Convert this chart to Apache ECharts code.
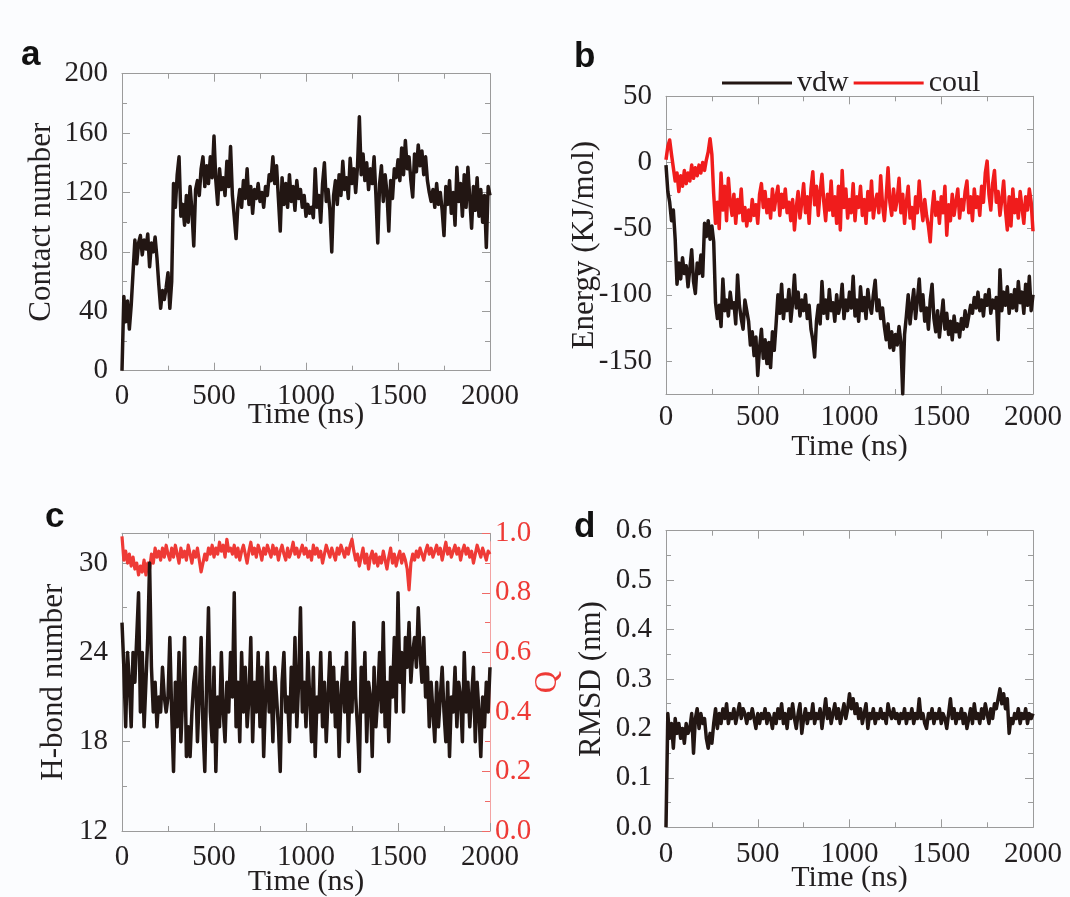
<!DOCTYPE html>
<html><head><meta charset="utf-8">
<script src="https://cdn.jsdelivr.net/npm/echarts@6/dist/echarts.min.js"></script>
<style>html,body{margin:0;padding:0;background:#fbfcfe}#c{width:1070px;height:897px}</style>
</head><body><div id="c"></div>
<script>
// ---- data (sampled every 10 ns, 0..2000 ns) ----
const timeStep = 10;
const timeMin = 0, timeMax = 2000, timeInterval = 500;
const timeLabels = [0, 500, 1000, 1500, 2000];

const contactNumber = [
0,50,33,47,28,44,66,88,72,86,91,78,88,82,92,70,86,80,90,76,
58,42,54,48,56,66,42,60,126,110,132,144,104,112,98,118,100,124,108,84,
122,128,118,136,144,124,138,126,144,130,158,128,112,136,122,130,118,141,124,151,
118,104,89,112,122,110,128,116,136,112,124,106,122,116,126,114,120,110,124,118,
132,128,144,126,138,116,94,130,112,126,110,132,114,124,108,128,116,122,110,118,
104,112,106,110,103,136,110,118,100,126,140,114,122,108,80,118,128,112,132,118,
141,122,130,116,143,126,136,120,138,171,132,146,128,140,122,136,126,144,118,86,
126,138,114,132,120,94,128,116,136,130,142,128,150,132,155,136,144,128,117,146,
134,152,138,148,132,144,128,120,114,122,110,126,112,120,108,91,124,112,128,106,
120,98,137,114,126,104,132,110,137,116,96,124,108,130,104,122,100,118,83,124,
118];

const vdwEnergy = [
-2,-22,-30,-44,-36,-58,-92,-76,-88,-72,-84,-78,-94,-80,-66,-90,-99,-76,-84,-70,
-86,-46,-56,-44,-58,-48,-60,-106,-118,-108,-124,-88,-112,-104,-116,-98,-110,-106,-122,-85,
-108,-118,-126,-104,-112,-120,-138,-128,-146,-132,-161,-140,-126,-148,-134,-152,-136,-155,-128,-142,
-122,-100,-114,-92,-118,-104,-112,-96,-120,-106,-85,-110,-98,-116,-104,-112,-100,-118,-108,-126,
-134,-147,-120,-108,-122,-90,-114,-104,-118,-96,-112,-106,-120,-100,-114,-108,-92,-118,-104,-112,
-98,-110,-86,-116,-104,-120,-94,-112,-102,-118,-96,-108,-114,-100,-89,-112,-104,-118,-110,-124,
-134,-122,-140,-128,-142,-130,-138,-124,-136,-175,-130,-116,-100,-122,-108,-96,-118,-104,-88,-112,
-100,-120,-110,-126,-104,-92,-118,-128,-112,-132,-118,-104,-126,-114,-130,-120,-134,-116,-128,-122,
-132,-118,-126,-112,-124,-116,-108,-114,-102,-110,-98,-112,-104,-116,-100,-108,-96,-114,-104,-110,
-102,-134,-81,-112,-98,-108,-94,-114,-100,-110,-96,-112,-90,-106,-98,-114,-92,-108,-86,-112,
-100];

const coulEnergy = [
2,12,17,6,-4,-14,-8,-22,-10,-18,-6,-16,-8,-14,-2,-12,-4,-10,-2,-8,
0,-6,2,8,18,6,-24,-46,-30,-50,-8,-36,-18,-44,-12,-30,-40,-24,-46,-28,
-38,-20,-44,-34,-48,-36,-44,-28,-40,-32,-46,-24,-16,-34,-22,-38,-28,-42,-20,-36,
-26,-18,-40,-24,-34,-20,-38,-30,-44,-28,-51,-34,-22,-42,-30,-16,-38,-26,-46,-20,
-7,-32,-18,-40,-22,-9,-30,-44,-24,-36,-14,-40,-26,-46,-18,-51,-6,-34,-20,-42,
-28,-38,-16,-44,-26,-34,-18,-40,-28,-46,-22,-36,-14,-42,-30,-24,-38,-10,-32,-44,
-26,-4,-30,-40,-20,-36,-28,-12,-38,-24,-46,-30,-18,-42,-34,-50,-26,-38,-14,-32,
-44,-28,-40,-48,-60,-36,-22,-40,-30,-46,-26,-38,-18,-55,-32,-44,-24,-40,-30,-20,
-42,-28,-36,-22,-14,-38,-26,-44,-20,-34,-26,-40,-18,-30,-8,1,-24,-36,-16,-6,
-30,-22,-40,-28,-14,-36,-51,-26,-48,-20,-38,-28,-42,-22,-34,-46,-26,-36,-20,-30,
-52];

const hbondNumber = [
26,23,19,24,22,19,24,22,25,28,20,24,19,22,25,30,23,20,22,19,
21,20,23,21,20,21,25,20,16,22,19,24,18,21,25,17,19,17,20,22,
23,18,21,25,19,16,22,27,20,18,23,16,21,19,24,20,18,22,20,24,
21,28,19,22,18,24,20,23,19,21,25,18,22,20,24,19,23,17,21,24,
20,22,18,23,21,19,16,22,24,20,21,18,23,20,25,19,22,27,20,22,
19,24,21,18,23,17,21,20,24,19,22,18,21,24,20,23,19,22,17,21,
23,20,24,18,22,20,26,21,19,16,23,20,24,18,22,21,17,23,19,21,
24,20,26,19,22,18,23,21,25,20,28,22,24,20,25,23,26,22,24,25,
23,27,24,22,25,21,23,19,22,20,18,22,19,21,23,20,18,22,17,21,
20,23,19,22,21,18,24,20,22,19,21,23,18,22,20,17,21,19,22,20,
23];

const qValue = [
0.99,0.91,0.94,0.90,0.93,0.89,0.92,0.88,0.90,0.86,0.89,0.87,0.91,0.86,0.90,0.88,0.93,0.90,0.95,0.92,
0.94,0.91,0.95,0.92,0.96,0.93,0.91,0.95,0.92,0.96,0.93,0.90,0.95,0.92,0.94,0.91,0.96,0.93,0.90,0.94,
0.92,0.95,0.91,0.87,0.90,0.93,0.91,0.95,0.93,0.96,0.92,0.95,0.93,0.97,0.94,0.96,0.92,0.98,0.94,0.95,
0.93,0.96,0.92,0.95,0.91,0.94,0.96,0.93,0.90,0.94,0.97,0.93,0.95,0.92,0.96,0.94,0.91,0.95,0.93,0.96,
0.94,0.92,0.96,0.93,0.95,0.91,0.94,0.96,0.93,0.91,0.95,0.92,0.94,0.97,0.93,0.95,0.92,0.94,0.96,0.93,
0.95,0.92,0.94,0.91,0.96,0.93,0.95,0.92,0.94,0.90,0.93,0.96,0.94,0.92,0.95,0.93,0.91,0.95,0.93,0.96,
0.94,0.92,0.95,0.93,0.96,0.98,0.94,0.91,0.93,0.89,0.92,0.95,0.90,0.93,0.88,0.92,0.94,0.90,0.93,0.89,
0.92,0.90,0.94,0.91,0.88,0.92,0.95,0.90,0.93,0.89,0.92,0.94,0.90,0.93,0.91,0.88,0.81,0.90,0.93,0.91,
0.94,0.92,0.95,0.93,0.91,0.94,0.96,0.93,0.95,0.92,0.94,0.96,0.93,0.95,0.91,0.94,0.97,0.93,0.95,0.92,
0.94,0.96,0.93,0.95,0.91,0.94,0.96,0.93,0.95,0.92,0.94,0.90,0.93,0.96,0.94,0.92,0.95,0.93,0.91,0.94,
0.93];

const rmsdValue = [
0.00,0.23,0.18,0.21,0.16,0.22,0.19,0.21,0.18,0.20,0.17,0.21,0.19,0.20,0.23,0.15,0.22,0.24,0.20,0.23,
0.21,0.22,0.18,0.16,0.19,0.17,0.21,0.24,0.20,0.23,0.21,0.24,0.22,0.25,0.21,0.23,0.22,0.24,0.21,0.23,
0.25,0.22,0.24,0.23,0.21,0.23,0.22,0.24,0.22,0.20,0.23,0.21,0.23,0.22,0.24,0.21,0.23,0.22,0.20,0.23,
0.21,0.24,0.22,0.25,0.21,0.23,0.20,0.24,0.22,0.25,0.22,0.20,0.23,0.25,0.19,0.22,0.24,0.21,0.23,0.22,
0.25,0.21,0.23,0.22,0.24,0.20,0.23,0.26,0.22,0.24,0.21,0.23,0.25,0.22,0.24,0.21,0.23,0.25,0.22,0.24,
0.27,0.24,0.26,0.23,0.25,0.22,0.24,0.21,0.23,0.25,0.20,0.23,0.22,0.24,0.21,0.23,0.22,0.24,0.22,0.23,
0.21,0.25,0.23,0.22,0.24,0.22,0.23,0.21,0.23,0.22,0.24,0.21,0.23,0.22,0.24,0.21,0.23,0.22,0.26,0.22,
0.23,0.21,0.20,0.23,0.22,0.24,0.21,0.23,0.22,0.24,0.21,0.23,0.22,0.20,0.23,0.26,0.22,0.24,0.21,0.23,
0.22,0.24,0.21,0.23,0.20,0.22,0.24,0.21,0.25,0.22,0.23,0.21,0.24,0.22,0.25,0.23,0.21,0.24,0.22,0.25,
0.24,0.26,0.28,0.25,0.27,0.24,0.26,0.19,0.22,0.21,0.23,0.22,0.24,0.21,0.23,0.22,0.24,0.21,0.23,0.22,
0.23];

// ---- tick label values ----
const contactLabels = [0,40,80,120,160,200];
const energyLabels = [-150,-100,-50,0,50];
const hbondLabels = [12,18,24,30];
const qLabels = [0,0.2,0.4,0.6,0.8,1.0];
const rmsdLabels = [0,0.1,0.2,0.3,0.4,0.5,0.6];

// ---- styling ----
const FONT = "'Liberation Serif','Times New Roman',serif";
const TXT = '#231f20';
const FRAME = '#9b9b9b';
const BLACK = '#221613';
const RED = '#f01c1c';
const QRED = '#ee3a36';

const grids = [
  {left:122, top:73.7, width:368, height:297},
  {left:666, top:96.3, width:367, height:297.7},
  {left:122, top:533.3, width:368, height:297.7},
  {left:666, top:530.7, width:367, height:296.6}
];

function xAxes(g, nameGap, margin) {
  const base = {type:'value', gridIndex:g, min:timeMin, max:timeMax, interval:timeInterval,
    splitLine:{show:false}, minorSplitLine:{show:false},
    axisLine:{show:true, onZero:false, lineStyle:{color:FRAME, width:1}},
    axisTick:{show:true, inside:true, length:8, lineStyle:{color:FRAME}},
    minorTick:{show:true, splitNumber:2, length:5, lineStyle:{color:FRAME}}};
  return [
    Object.assign({}, base, {position:'bottom', name:'Time (ns)', nameLocation:'middle', nameGap:nameGap,
      nameMoveOverlap:false,
      nameTextStyle:{fontFamily:FONT, fontSize:30, color:TXT},
      axisLabel:{show:true, margin:margin, customValues:timeLabels, formatter:v => String(v),
        fontFamily:FONT, fontSize:29, color:TXT}}),
    Object.assign({}, base, {position:'top', axisLabel:{show:false}})
  ];
}

function yAxisSide(g, pos, min, max, interval, labels, o) {
  const ax = {type:'value', gridIndex:g, position:pos, min:min, max:max, interval:interval,
    splitLine:{show:false}, minorSplitLine:{show:false},
    axisLine:{show:true, onZero:false, lineStyle:{color:o.lineColor || FRAME, width:1}},
    axisTick:{show:true, inside:true, length:o.minor ? 8 : 6, lineStyle:{color:o.tickColor || FRAME}},
    minorTick:{show:!!o.minor, splitNumber:2, length:5, lineStyle:{color:o.tickColor || FRAME}},
    axisLabel: o.labels ? {show:true, customValues:labels, margin:o.margin, formatter:o.fmt,
      fontFamily:FONT, fontSize:29, color:o.labelColor || TXT} : {show:false}
  };
  if (o.name) {
    Object.assign(ax, {name:o.name, nameLocation:'middle', nameGap:o.nameGap, nameMoveOverlap:false,
      nameTextStyle:{fontFamily:FONT, fontSize:31, color:o.labelColor || TXT}});
  }
  return ax;
}

const intFmt = v => String(v);
const oneDec = v => v.toFixed(1);

const xAxis = [].concat(xAxes(0, 29, 11), xAxes(1, 38, 9), xAxes(2, 36, 12), xAxes(3, 36, 13));
const yAxis = [
  yAxisSide(0,'left',0,200,40,contactLabels,{minor:true, labels:true, margin:14, fmt:intFmt, name:'Contact number', nameGap:65}),
  yAxisSide(0,'right',0,200,40,contactLabels,{minor:true}),
  yAxisSide(1,'left',-175,50,25,energyLabels,{minor:false, labels:true, margin:14, fmt:intFmt, name:'Energy (KJ/mol)', nameGap:66}),
  yAxisSide(1,'right',-175,50,25,energyLabels,{minor:false}),
  yAxisSide(2,'left',12,32,6,hbondLabels,{minor:true, labels:true, margin:14, fmt:intFmt, name:'H-bond number', nameGap:53}),
  yAxisSide(2,'right',0,1,0.2,qLabels,{minor:true, labels:true, margin:5, fmt:oneDec, name:'Q', nameGap:42,
     lineColor:'#f3a3a3', tickColor:'#ef6a66', labelColor:QRED}),
  yAxisSide(3,'left',0,0.6,0.1,rmsdLabels,{minor:true, labels:true, margin:14, fmt:oneDec, name:'RMSD (nm)', nameGap:59}),
  yAxisSide(3,'right',0,0.6,0.1,rmsdLabels,{minor:true})
];

const toXY = arr => arr.map((v, i) => [i * timeStep, v]);
function line(name, data, xi, yi, color, w) {
  return {type:'line', name:name, data:toXY(data), xAxisIndex:xi, yAxisIndex:yi,
    showSymbol:false, symbol:'none', color:color, itemStyle:{color:color},
    lineStyle:{color:color, width:w || 3.5, join:'round'}, silent:true};
}

const series = [
  line('Contact number', contactNumber, 0, 0, BLACK),
  line('vdw', vdwEnergy, 2, 2, BLACK),
  line('coul', coulEnergy, 2, 2, RED),
  line('Q', qValue, 4, 5, QRED, 3.2),
  line('H-bond number', hbondNumber, 4, 4, BLACK),
  line('RMSD', rmsdValue, 6, 6, BLACK)
];

const letterFont = 'bold 35px "Liberation Sans", Arial, sans-serif';
const graphic = [
  {type:'text', left:21, top:38, style:{text:'a', font:letterFont, fill:'#111'}},
  {type:'text', left:574, top:40, style:{text:'b', font:letterFont, fill:'#111'}},
  {type:'text', left:45, top:500, style:{text:'c', font:letterFont, fill:'#111'}},
  {type:'text', left:574, top:510, style:{text:'d', font:letterFont, fill:'#111'}}
];

const chart = echarts.init(document.getElementById('c'), null, {renderer:'canvas'});
chart.setOption({
  animation:false,
  backgroundColor:'#fbfcfe',
  grid: grids.map(g => Object.assign({outerBoundsMode:'none', containLabel:false}, g)),
  xAxis: xAxis,
  yAxis: yAxis,
  legend: {data:['vdw','coul'], left:722, top:68, padding:0, itemGap:5, itemWidth:70, itemHeight:3,
    icon:'rect', orient:'horizontal',
    textStyle:{fontFamily:FONT, fontSize:30, color:TXT}},
  graphic: graphic,
  series: series
});
</script>
</body></html>
